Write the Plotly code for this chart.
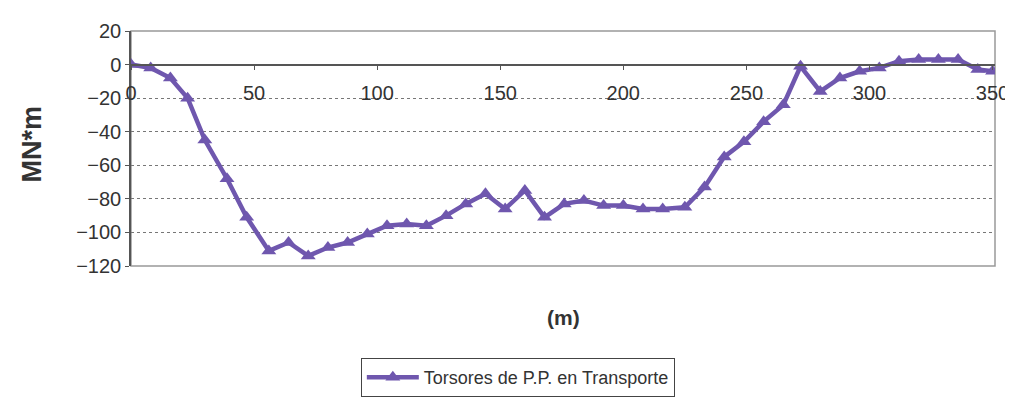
import plotly.graph_objects as go

# distance along structure (m)
x_m = [0, 8, 16, 23, 30, 39, 47, 56, 64, 72, 80, 88, 96, 104, 112, 120, 128,
       136, 144, 152, 160, 168, 176, 184, 192, 200, 208, 216, 225, 233, 241,
       249, 257, 265, 272, 280, 288, 296, 304, 312, 320, 328, 336, 344, 350]
# torsor values (MN*m)
torsor = [0, -2, -8, -20, -45, -68, -91, -111, -106, -114, -109, -106, -101,
          -96, -95, -96, -90, -83, -77, -86, -75, -91, -83, -81, -84, -84,
          -86, -86, -85, -73, -55, -46, -34, -24, -1, -16, -8, -4, -2, 2, 3,
          3, 3, -3, -4]
series_name = "Torsores de P.P. en Transporte"
y_ticks = [20, 0, -20, -40, -60, -80, -100, -120]
x_ticks = [0, 50, 100, 150, 200, 250, 300, 350]

FONT = "Liberation Sans, Arial, sans-serif"
PURPLE = "#6F57AE"

fig = go.Figure()
fig.add_trace(go.Scatter(
    x=x_m, y=torsor, mode="lines+markers", name=series_name,
    line=dict(color=PURPLE, width=4.5),
    marker=dict(symbol="triangle-up", size=13, color=PURPLE),
))

fig.update_layout(
    width=1013, height=401,
    margin=dict(l=123, r=20, t=22, b=134),
    paper_bgcolor="white", plot_bgcolor="white",
    font=dict(family=FONT, color="#333", size=19),
    showlegend=True,
    legend=dict(
        orientation="h", x=0.266, xanchor="left", y=-0.392, yanchor="top",
        bordercolor="#444", borderwidth=1, bgcolor="white",
        font=dict(size=18, color="#333"), itemwidth=52,
    ),
    xaxis=dict(
        range=[0, 351], tickvals=x_ticks, anchor="free", position=120 / 140,
        showline=True, linecolor="#555", linewidth=1.5,
        ticks="outside", ticklen=5, tickcolor="#555",
        ticklabelstandoff=6, showgrid=False, zeroline=False,
        tickfont=dict(size=20, color="#333"),
    ),
    yaxis=dict(
        range=[-120, 20], tickvals=y_ticks,
        showline=True, linecolor="#555", linewidth=1.5,
        ticks="outside", ticklen=4, tickcolor="#555",
        showgrid=True, gridcolor="#777", griddash="dot", gridwidth=1,
        zeroline=False, tickfont=dict(size=20, color="#333"),
    ),
    shapes=[dict(type="rect", xref="x domain", yref="y domain",
                 x0=0, x1=1, y0=0, y1=1, line=dict(color="#999", width=1.5),
                 layer="below")],
    annotations=[
        dict(text="<b>(m)</b>", xref="paper", yref="paper", x=0.5, y=-0.22,
             xanchor="center", yanchor="middle", showarrow=False,
             font=dict(size=21, color="#333", family=FONT)),
        dict(text="<b>MN*m</b>", xref="paper", yref="paper", x=-0.115, y=0.52,
             xanchor="center", yanchor="middle", showarrow=False, textangle=-90,
             font=dict(size=27, color="#333", family=FONT)),
    ],
)

fig.write_html("out.html")
